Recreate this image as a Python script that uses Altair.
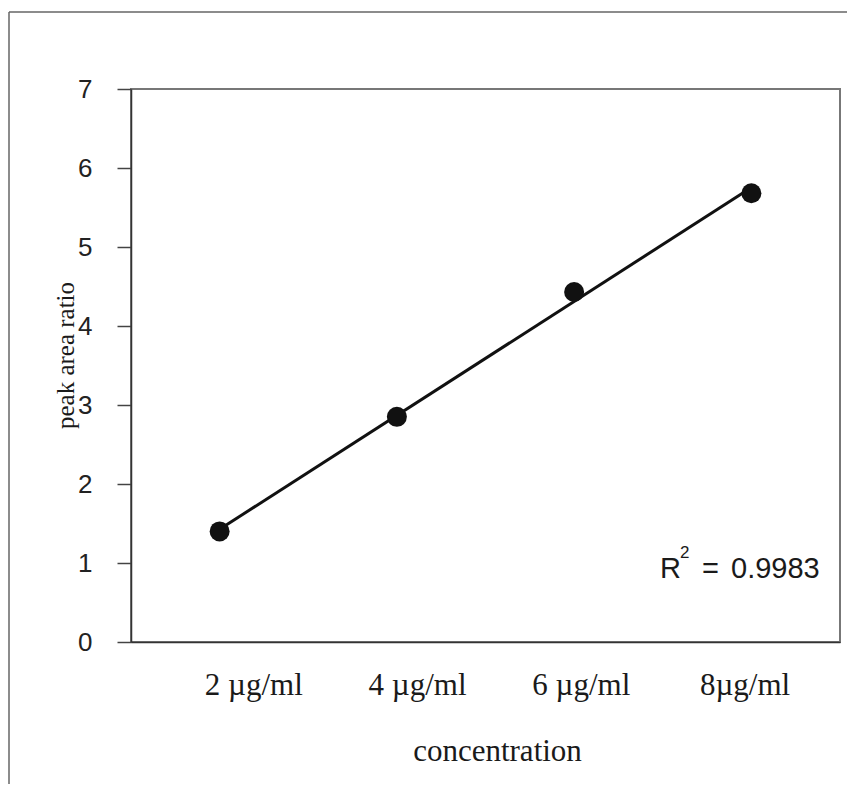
import altair as alt
import pandas as pd

# ---- data ----
concentration = [2, 4, 6, 8]
peak_area_ratio = [1.40, 2.85, 4.43, 5.68]
tick_labels = ["2 µg/ml", "4 µg/ml", "6 µg/ml", "8µg/ml"]
y_ticks = [0, 1, 2, 3, 4, 5, 6, 7]
r_squared = "0.9983"

df = pd.DataFrame({"conc": concentration, "ratio": peak_area_ratio, "label": tick_labels})
one = pd.DataFrame({"a": [0]})

W, H = 709, 553
SERIF = "Liberation Serif"
SANS = "Liberation Sans"
INK = "#1a1a1a"

x_scale = alt.Scale(domain=[1, 9], nice=False, zero=False)
y_scale = alt.Scale(domain=[0, 7], nice=False, zero=True)

x_axis = alt.Axis(
    title="concentration", labels=False, ticks=False, grid=False,
    domainColor="#333", domainWidth=1.5,
    titleFont=SERIF, titleFontSize=31, titleFontWeight="normal", titleColor=INK,
    titleBaseline="alphabetic", titleX=366, titleY=118,
)
y_axis = alt.Axis(
    title="peak area ratio", values=y_ticks, grid=False,
    tickSize=14, tickColor="#444", tickWidth=1.5,
    domainColor="#333", domainWidth=1.5,
    labelFont=SANS, labelFontSize=26, labelColor="#222", labelPadding=25,
    titleFont=SERIF, titleFontSize=25, titleFontWeight="normal", titleColor=INK,
    titleBaseline="middle", titleX=-66, titleY=266,
)

X = alt.X("conc:Q", scale=x_scale, axis=x_axis)
Y = alt.Y("ratio:Q", scale=y_scale, axis=y_axis)

fit = alt.Chart(df).transform_regression("conc", "ratio").mark_line(
    color="#111", strokeWidth=3
).encode(x=X, y=Y)

points = alt.Chart(df).mark_circle(size=400, color="#111", opacity=1).encode(x=X, y=Y)

# R^2 annotation
r_txt = alt.Chart(one).mark_text(text="R", font=SANS, fontSize=29, align="left",
                                 baseline="alphabetic", color=INK).encode(
    x=alt.value(529), y=alt.value(489))
sup_txt = alt.Chart(one).mark_text(text="2", font=SANS, fontSize=17, align="left",
                                   baseline="alphabetic", color=INK).encode(
    x=alt.value(549), y=alt.value(469))
eq_txt = alt.Chart(one).mark_text(text="=", font=SANS, fontSize=29, align="left",
                                  baseline="alphabetic", color=INK).encode(
    x=alt.value(571), y=alt.value(489))
val_txt = alt.Chart(one).mark_text(text=r_squared, font=SANS, fontSize=29, align="left",
                                   baseline="alphabetic", color=INK).encode(
    x=alt.value(600), y=alt.value(489))

# outer scanned frame lines
frame_left = alt.Chart(one).mark_rule(color="#666", strokeWidth=1.5).encode(
    x=alt.value(-122), y=alt.value(-77), y2=alt.value(703))
frame_top = alt.Chart(one).mark_rule(color="#666", strokeWidth=1.5).encode(
    x=alt.value(-122), x2=alt.value(716), y=alt.value(-77))

main = alt.layer(fit, points, r_txt, sup_txt, eq_txt, val_txt, frame_left, frame_top)

# category labels under the axis (typed labels, spaced on their own scale)
labels = alt.Chart(df).mark_text(font=SERIF, fontSize=31, baseline="alphabetic",
                                 color=INK).encode(
    x=alt.X("conc:Q", scale=alt.Scale(domain=[0.5, 9.16], nice=False, zero=False), axis=None),
    y=alt.value(H + 53),
    text="label:N",
)

chart = alt.layer(main, labels).resolve_scale(x="independent").properties(
    width=W, height=H,
    autosize=alt.AutoSizeParams(type="none"),
    padding={"left": 123, "top": 81, "right": 7, "bottom": 142},
).configure_view(stroke="#777", strokeWidth=2)

chart.save("out.html", embed_options={"renderer": "svg", "actions": False})
